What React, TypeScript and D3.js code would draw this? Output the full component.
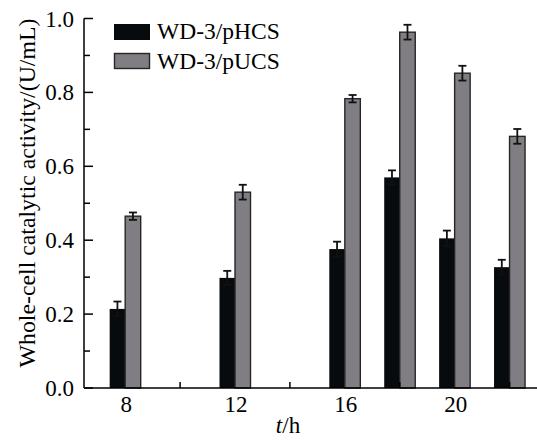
import { useEffect, useRef } from "react";
import * as d3 from "d3";

const hours = [8, 12, 16, 18, 20, 22];
const pHCS = [0.214, 0.298, 0.376, 0.57, 0.405, 0.327];
const pHCSErr = [0.02, 0.019, 0.02, 0.019, 0.021, 0.02];
const pUCS = [0.465, 0.53, 0.783, 0.963, 0.852, 0.681];
const pUCSErr = [0.01, 0.02, 0.01, 0.02, 0.02, 0.02];
const seriesNames = ["WD-3/pHCS", "WD-3/pUCS"];
const xMajorTicks = [8, 12, 16, 20];
const xMinorTicks = [10, 14, 18, 22];
const yMajorTicks = [0, 0.2, 0.4, 0.6, 0.8, 1.0];
const yMinorTicks = [0.1, 0.3, 0.5, 0.7, 0.9];

const FONT = "'Liberation Serif', 'Times New Roman', serif";
const BLACK = "#070b0d";
const GRAY = "#817e83";

function renderChart(el: SVGSVGElement) {
  const w = 537,
    h = 443;
  const svg = d3.select(el);
  svg.selectAll("*").remove();
  svg.attr("width", w).attr("height", h).attr("viewBox", `0 0 ${w} ${h}`);

  const x = d3.scaleLinear().domain([6.5, 23]).range([84, 537]);
  const y = d3.scaleLinear().domain([0, 1]).range([388, 18.5]);
  const bw = x(8.565) - x(8);

  svg.append("rect").attr("width", w).attr("height", h).attr("fill", "#fff");

  const rows = hours.map((t, i) => ({ t, a: pHCS[i], ae: pHCSErr[i], b: pUCS[i], be: pUCSErr[i] }));

  // bars
  svg
    .selectAll(".barA")
    .data(rows)
    .join("rect")
    .attr("x", (d) => x(d.t) - bw)
    .attr("y", (d) => y(d.a))
    .attr("width", bw)
    .attr("height", (d) => y(0) - y(d.a))
    .attr("fill", BLACK);
  svg
    .selectAll(".barB")
    .data(rows)
    .join("rect")
    .attr("x", (d) => x(d.t))
    .attr("y", (d) => y(d.b))
    .attr("width", bw)
    .attr("height", (d) => y(0) - y(d.b))
    .attr("fill", GRAY)
    .attr("stroke", "#262626")
    .attr("stroke-width", 1.4);

  // error bars
  const errs = rows.flatMap((d) => [
    { cx: x(d.t) - bw / 2, v: d.a, e: d.ae },
    { cx: x(d.t) + bw / 2, v: d.b, e: d.be },
  ]);
  const eg = svg.append("g").attr("stroke", "#111").attr("stroke-width", 1.8);
  errs.forEach((d) => {
    eg.append("line").attr("x1", d.cx).attr("x2", d.cx).attr("y1", y(d.v + d.e)).attr("y2", y(d.v - d.e));
    [d.v + d.e, d.v - d.e].forEach((v) =>
      eg.append("line").attr("x1", d.cx - 4).attr("x2", d.cx + 4).attr("y1", y(v)).attr("y2", y(v))
    );
  });

  // axes
  const ax = svg.append("g").attr("stroke", "#000").attr("stroke-width", 1.5);
  ax.append("line").attr("x1", x(6.5)).attr("x2", x(23)).attr("y1", y(0)).attr("y2", y(0));
  ax.append("line").attr("x1", x(6.5)).attr("x2", x(6.5)).attr("y1", y(0)).attr("y2", y(1));
  yMajorTicks.forEach((v) =>
    ax.append("line").attr("x1", x(6.5)).attr("x2", x(6.5) + 9).attr("y1", y(v)).attr("y2", y(v))
  );
  yMinorTicks.forEach((v) =>
    ax.append("line").attr("x1", x(6.5)).attr("x2", x(6.5) + 6).attr("y1", y(v)).attr("y2", y(v))
  );
  xMinorTicks.forEach((t) =>
    ax.append("line").attr("x1", x(t)).attr("x2", x(t)).attr("y1", y(0)).attr("y2", y(0) - 6)
  );

  const tg = svg.append("g").attr("font-family", FONT).attr("font-size", 23).attr("fill", "#000");
  yMajorTicks.forEach((v) =>
    tg
      .append("text")
      .attr("x", 74)
      .attr("y", y(v))
      .attr("dy", "0.35em")
      .attr("text-anchor", "end")
      .text(v.toFixed(1))
  );
  xMajorTicks.forEach((t) =>
    tg
      .append("text")
      .attr("x", x(t) + 1)
      .attr("y", 412)
      .attr("text-anchor", "middle")
      .text(String(t))
  );

  const xt = svg
    .append("text")
    .attr("x", 288)
    .attr("y", 433)
    .attr("text-anchor", "middle")
    .attr("font-family", FONT)
    .attr("font-size", 23);
  xt.append("tspan").attr("font-style", "italic").text("t");
  xt.append("tspan").text("/h");

  svg
    .append("text")
    .attr("transform", "translate(35,193) rotate(-90)")
    .attr("text-anchor", "middle")
    .attr("font-family", FONT)
    .attr("font-size", 23.8)
    .text("Whole-cell catalytic activity/(U/mL)");

  // legend
  const lg = svg.append("g").attr("font-family", FONT).attr("font-size", 23.5);
  lg.append("rect").attr("x", 114).attr("y", 24).attr("width", 36).attr("height", 16).attr("fill", BLACK);
  lg.append("rect")
    .attr("x", 114.5)
    .attr("y", 53.5)
    .attr("width", 35)
    .attr("height", 15)
    .attr("fill", GRAY)
    .attr("stroke", "#262626")
    .attr("stroke-width", 1.4);
  lg.append("text").attr("x", 157).attr("y", 38.5).text(seriesNames[0]);
  lg.append("text").attr("x", 157).attr("y", 68.5).text(seriesNames[1]);
}

export default function App() {
  const ref = useRef<SVGSVGElement>(null);
  useEffect(() => {
    if (ref.current) renderChart(ref.current);
  }, []);
  return (
    <div style={{ position: "absolute", left: 0, top: 0 }}>
      <svg ref={ref} style={{ display: "block" }} />
    </div>
  );
}
